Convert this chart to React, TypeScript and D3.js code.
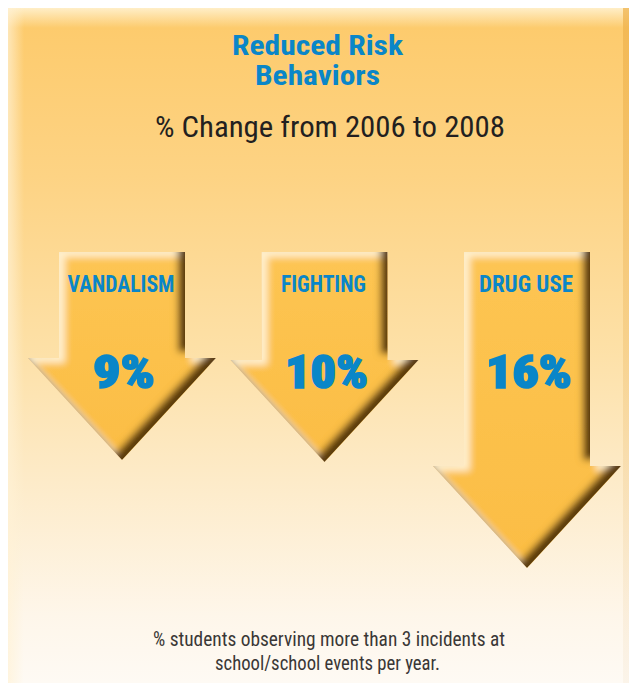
import React from "react";
import * as d3 from "d3";

const titleLines = ["Reduced Risk", "Behaviors"];
const subtitle = "% Change from 2006 to 2008";
const categories = ["VANDALISM", "FIGHTING", "DRUG USE"];
const values = [9, 10, 16];
const footnoteLines = [
  "% students observing more than 3 incidents at",
  "school/school events per year.",
];

// layout (not data)
const W = 629;
const H = 683;
const labelWidths = [107, 85, 94];
const pctWidths = [62, 83, 86];
const FONT = "'Liberation Sans Narrow', 'Roboto Condensed', 'DejaVu Sans Condensed', Roboto, sans-serif";
const BLUE = "#0a86c8";

export default function App() {
  const x = d3.scalePoint<string>().domain(categories).range([122, 527]);
  const tipY = d3.scaleLinear().domain([0, 10, 16]).range([442, 462, 568]);
  const shaftTop = 252;
  const shaftHalf = 63;
  const headHalf = 94;
  const headH = 102;
  const line = d3.line<[number, number]>();

  const arrowPath = (cx: number, tip: number) => {
    const base = tip - headH;
    const pts: [number, number][] = [
      [cx - shaftHalf, shaftTop],
      [cx + shaftHalf, shaftTop],
      [cx + shaftHalf, base],
      [cx + headHalf, base],
      [cx, tip],
      [cx - headHalf, base],
      [cx - shaftHalf, base],
    ];
    return line(pts) + "Z";
  };

  return (
    <svg
      width={W}
      height={H}
      style={{ position: "fixed", top: 0, left: 0, display: "block" }}
    >
      <defs>
        <linearGradient id="bg" x1="0" y1="0" x2="0" y2="1">
          <stop offset="0" stopColor="#fdca6a" />
          <stop offset="0.25" stopColor="#fdd384" />
          <stop offset="0.5" stopColor="#fde0a6" />
          <stop offset="0.72" stopColor="#fdeccc" />
          <stop offset="0.9" stopColor="#fef6ea" />
          <stop offset="1" stopColor="#fefaf4" />
        </linearGradient>
        <linearGradient id="topGlow" x1="0" y1="0" x2="0" y2="1">
          <stop offset="0" stopColor="#fff0cc" stopOpacity="0.95" />
          <stop offset="1" stopColor="#fff0cc" stopOpacity="0" />
        </linearGradient>
        <linearGradient id="leftGlow" x1="0" y1="0" x2="1" y2="0">
          <stop offset="0" stopColor="#fff2d6" stopOpacity="0.7" />
          <stop offset="1" stopColor="#fff2d6" stopOpacity="0" />
        </linearGradient>
        <linearGradient id="rightEdge" x1="0" y1="0" x2="0" y2="1">
          <stop offset="0" stopColor="#eeb048" stopOpacity="0.7" />
          <stop offset="0.5" stopColor="#eebb66" stopOpacity="0.4" />
          <stop offset="1" stopColor="#f0dcc0" stopOpacity="0.2" />
        </linearGradient>
        <linearGradient id="arrowFill" x1="0" y1="0" x2="0" y2="1">
          <stop offset="0" stopColor="#fdc553" />
          <stop offset="1" stopColor="#fbbd44" />
        </linearGradient>
        <filter id="bevel" x="-15%" y="-15%" width="130%" height="130%">
          <feOffset in="SourceAlpha" dx="-7" dy="-6" result="o1" />
          <feGaussianBlur in="o1" stdDeviation="3.5" result="b1" />
          <feComposite in="SourceAlpha" in2="b1" operator="out" result="edge1" />
          <feFlood floodColor="#5a3a0e" floodOpacity="1" />
          <feComposite in2="edge1" operator="in" result="shadow" />
          <feOffset in="SourceAlpha" dx="6" dy="5" result="o2" />
          <feGaussianBlur in="o2" stdDeviation="3.5" result="b2" />
          <feComposite in="SourceAlpha" in2="b2" operator="out" result="edge2" />
          <feFlood floodColor="#fff1cf" floodOpacity="0.95" />
          <feComposite in2="edge2" operator="in" result="hl" />
          <feMerge>
            <feMergeNode in="SourceGraphic" />
            <feMergeNode in="hl" />
            <feMergeNode in="shadow" />
          </feMerge>
        </filter>
      </defs>

      <rect x={0} y={0} width={W} height={H} fill="#ffffff" />
      <rect x={8} y={8} width={W - 8} height={H - 8} fill="url(#bg)" />
      <rect x={8} y={8} width={W - 8} height={20} fill="url(#topGlow)" />
      <rect x={8} y={8} width={16} height={H - 8} fill="url(#leftGlow)" />
      <rect x={623} y={8} width={6} height={H - 8} fill="url(#rightEdge)" />

      <g fontFamily={FONT} textAnchor="middle">
        {titleLines.map((t, i) => (
          <text
            key={t}
            x={317.5}
            y={55 + i * 30}
            fontSize={28}
            fontWeight="bold"
            fill={BLUE}
            textLength={i === 0 ? 171 : 125}
            lengthAdjust="spacingAndGlyphs"
          >
            {t}
          </text>
        ))}
        <text
          x={330}
          y={137}
          fontSize={30}
          fill="#231f20"
          textLength={350}
          lengthAdjust="spacingAndGlyphs"
        >
          {subtitle}
        </text>
      </g>

      {categories.map((c, i) => {
        const cx = x(c) as number;
        return (
          <g key={c}>
            <path d={arrowPath(cx, tipY(values[i]))} fill="url(#arrowFill)" filter="url(#bevel)" />
            <text
              x={cx - 1}
              y={292}
              fontFamily={FONT}
              fontWeight="bold"
              fontSize={23}
              fill={BLUE}
              textAnchor="middle"
              textLength={labelWidths[i]}
              lengthAdjust="spacingAndGlyphs"
            >
              {c}
            </text>
            <text
              x={cx + 2}
              y={388}
              fontFamily={FONT}
              fontWeight={900}
              fontSize={46}
              fill={BLUE}
              stroke={BLUE}
              strokeWidth={1.6}
              textAnchor="middle"
              textLength={pctWidths[i]}
              lengthAdjust="spacingAndGlyphs"
            >
              {`${values[i]}%`}
            </text>
          </g>
        );
      })}

      <g fontFamily={FONT} textAnchor="middle" fill="#3a3736" fontSize={21}>
        {footnoteLines.map((t, i) => (
          <text
            key={t}
            x={i === 0 ? 329 : 327.5}
            y={646 + i * 24}
            textLength={i === 0 ? 352 : 225}
            lengthAdjust="spacingAndGlyphs"
          >
            {t}
          </text>
        ))}
      </g>
    </svg>
  );
}
